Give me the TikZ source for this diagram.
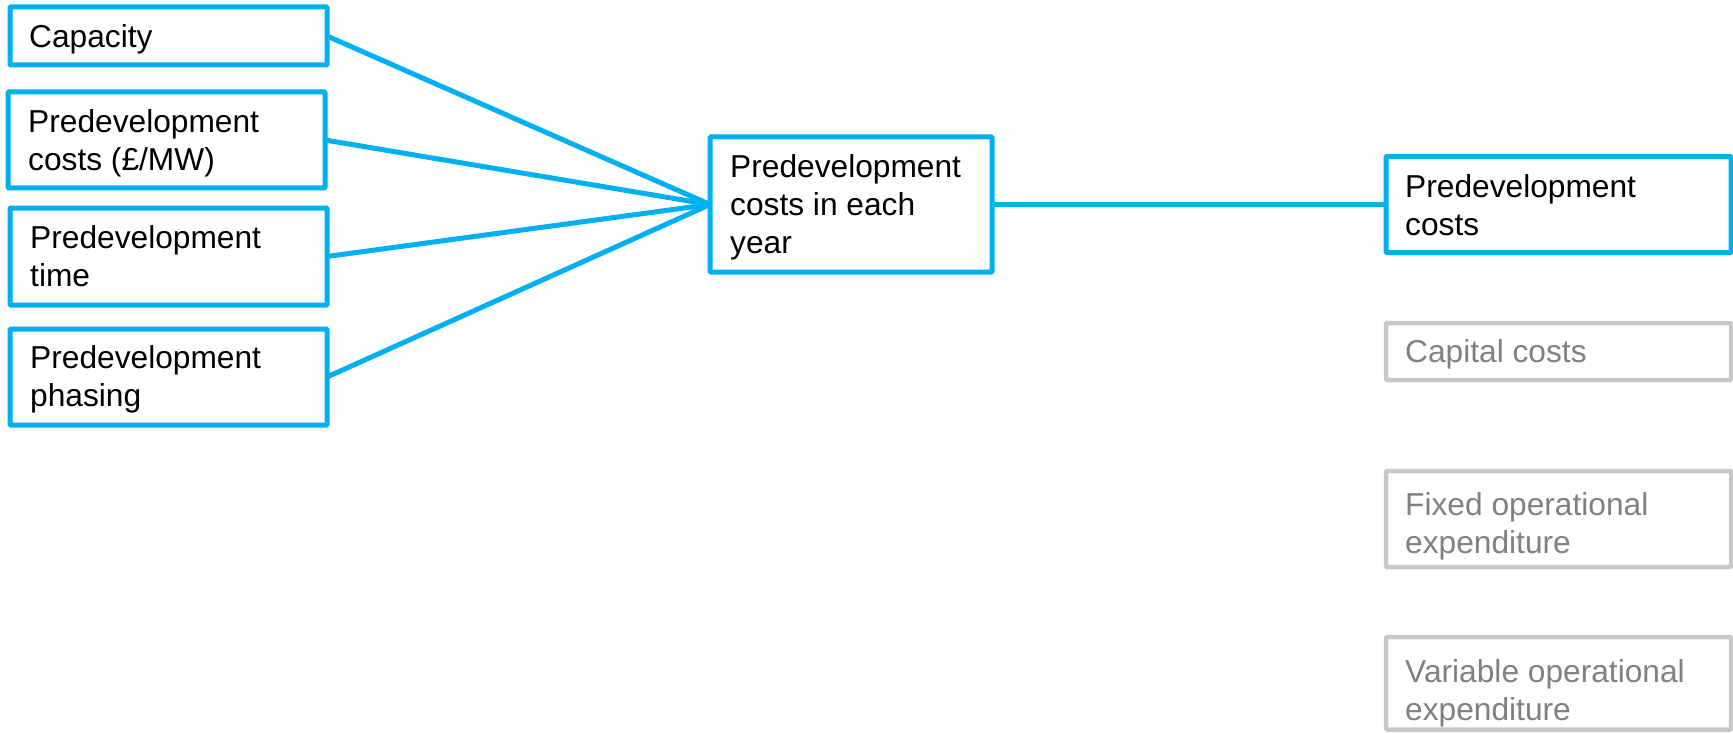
\documentclass[tikz,border=0pt]{standalone}
\usepackage{fontspec}
\setmainfont{Liberation Sans}
\definecolor{pblue}{HTML}{00B0F0}
\definecolor{pgrayline}{HTML}{C8C8C8}
\definecolor{pgraytext}{HTML}{808080}
\begin{document}
\begin{tikzpicture}[x=1pt,y=-1pt,
  bluebox/.style={draw=pblue,line width=5pt,rounded corners=1pt,inner sep=0pt,outer sep=0pt,anchor=north west},
  graybox/.style={draw=pgrayline,line width=4.5pt,rounded corners=1pt,inner sep=0pt,outer sep=0pt,anchor=north west},
  txt/.style={anchor=north west,inner sep=0pt,align=left,font=\fontsize{31.7}{38}\selectfont},
  graytxt/.style={txt,text=pgraytext},
  conn/.style={draw=pblue,line width=5pt}]
\useasboundingbox (0,0) rectangle (1733,733);
% left boxes
\node[bluebox,minimum width=317pt,minimum height=58pt] (cap) at (10,7) {};
\node[bluebox,minimum width=317pt,minimum height=96pt] (pcost) at (8,92) {};
\node[bluebox,minimum width=317pt,minimum height=97pt] (ptime) at (10,208) {};
\node[bluebox,minimum width=317pt,minimum height=96pt] (pphase) at (10,329) {};
% central
\node[bluebox,minimum width=282pt,minimum height=135pt] (mid) at (710,137) {};
% right
\node[bluebox,minimum width=345pt,minimum height=96pt] (out) at (1386,156.5) {};
\node[graybox,minimum width=345pt,minimum height=57pt] (capex) at (1386,323) {};
\node[graybox,minimum width=345pt,minimum height=96pt] (fopex) at (1386,471) {};
\node[graybox,minimum width=345pt,minimum height=92.5pt] (vopex) at (1386,637) {};
% texts
\node[txt] (tcap) at (29,24.3) {Capacity};
\node[txt] (tpcost) at (28,109.3) {Predevelopment\\costs (£/MW)};
\node[txt] (tptime) at (30,225.3) {Predevelopment\\time};
\node[txt] (tpphase) at (30,345.3) {Predevelopment\\phasing};
\node[txt] (tmid) at (730,154.3) {Predevelopment\\costs in each\\year};
\node[txt] (tout) at (1405,174.3) {Predevelopment\\costs};
\node[graytxt] (tcapex) at (1405,339.3) {Capital costs};
\node[graytxt] (tfopex) at (1405,492.3) {Fixed operational\\expenditure};
\node[graytxt] (tvopex) at (1405,659.3) {Variable operational\\expenditure};
% connectors
\draw[conn] (cap.east) -- (mid.west);
\draw[conn] (pcost.east) -- (mid.west);
\draw[conn] (ptime.east) -- (mid.west);
\draw[conn] (pphase.east) -- (mid.west);
\draw[conn] (mid.east) -- (out.west);
\end{tikzpicture}
\end{document}
